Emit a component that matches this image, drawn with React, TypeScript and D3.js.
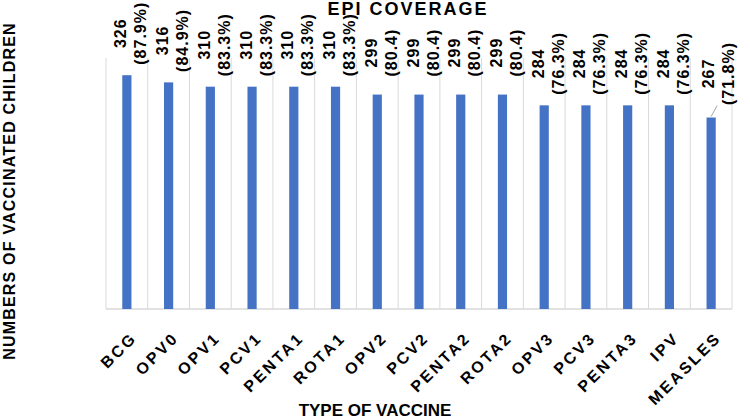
import React, { useEffect, useRef } from "react";
import * as d3 from "d3";

const categories = ["BCG", "OPV0", "OPV1", "PCV1", "PENTA1", "ROTA1", "OPV2", "PCV2", "PENTA2", "ROTA2", "OPV3", "PCV3", "PENTA3", "IPV", "MEASLES"];
const counts = [326, 316, 310, 310, 310, 310, 299, 299, 299, 299, 284, 284, 284, 284, 267];
const percentLabels = ["(87.9%)", "(84.9%)", "(83.3%)", "(83.3%)", "(83.3%)", "(83.3%)", "(80.4)", "(80.4)", "(80.4)", "(80.4)", "(76.3%)", "(76.3%)", "(76.3%)", "(76.3%)", "(71.8%)"];
const yMax = 350;

const W = 750;
const H = 419;
const plot = { left: 106, right: 732, top: 58, bottom: 309 };
const FONT = "'Liberation Sans', Arial, sans-serif";
const BAR = "#4472C4";
const GRID = "#d9d9d9";

export default function App() {
  const ref = useRef<SVGSVGElement>(null);

  useEffect(() => {
    const svg = d3.select(ref.current);
    svg.selectAll("*").remove();
    const x = d3.scaleBand<string>().domain(categories).range([plot.left, plot.right]).padding(0);
    const y = d3.scaleLinear().domain([0, yMax]).range([plot.bottom, plot.top]);
    const bw = x.bandwidth() * 0.22;
    const cxOf = (c: string) => (x(c) as number) + x.bandwidth() / 2;
    const last = categories.length - 1;

    svg.append("rect").attr("width", W).attr("height", H).attr("fill", "#fff");

    // gridlines
    const bounds = categories.map((c) => x(c) as number).concat([plot.right]);
    svg.append("g").selectAll("line").data(bounds).join("line")
      .attr("x1", (d) => d).attr("x2", (d) => d)
      .attr("y1", plot.top).attr("y2", plot.bottom)
      .attr("stroke", GRID).attr("stroke-width", 1);
    svg.append("line").attr("x1", plot.left).attr("x2", plot.right)
      .attr("y1", plot.bottom).attr("y2", plot.bottom)
      .attr("stroke", GRID).attr("stroke-width", 1.5);

    // bars
    svg.append("g").selectAll("rect").data(categories).join("rect")
      .attr("x", (c) => cxOf(c) - bw / 2)
      .attr("y", (_c, i) => y(counts[i]))
      .attr("width", bw)
      .attr("height", (_c, i) => plot.bottom - y(counts[i]))
      .attr("fill", BAR);

    // data labels
    categories.forEach((c, i) => {
      const cx = cxOf(c);
      const top = y(counts[i]);
      const lx = cx + (i === last ? 7 : 4);
      const ly = top - (i === last ? 44 : 42);
      if (i === last) {
        svg.append("line").attr("x1", cx).attr("y1", top - 1).attr("x2", cx + 6).attr("y2", top - 12)
          .attr("stroke", "#a6a6a6").attr("stroke-width", 1);
      }
      const g = svg.append("g").attr("transform", `translate(${lx},${ly}) rotate(-90)`);
      [String(counts[i]), percentLabels[i]].forEach((t, j) => {
        g.append("text").attr("x", 0).attr("y", j === 0 ? -10 : 10)
          .attr("text-anchor", "middle").attr("dominant-baseline", "central")
          .attr("font-family", FONT).attr("font-size", 16).attr("font-weight", "bold")
          .attr("letter-spacing", 1).attr("fill", "#000").text(t);
      });
    });

    // x tick labels rotated -45
    categories.forEach((c) => {
      const cx = cxOf(c);
      svg.append("text")
        .attr("transform", `translate(${cx + 3},331) rotate(-45)`)
        .attr("text-anchor", "end").attr("dominant-baseline", "hanging")
        .attr("font-family", FONT).attr("font-size", 16).attr("font-weight", "bold")
        .attr("letter-spacing", 2.5).attr("fill", "#000").text(c);
    });

    svg.append("text").attr("x", 408).attr("y", 15).attr("text-anchor", "middle")
      .attr("font-family", FONT).attr("font-size", 18).attr("font-weight", "bold")
      .attr("letter-spacing", 2).attr("fill", "#000").text("EPI COVERAGE");

    svg.append("text").attr("x", 375).attr("y", 416).attr("text-anchor", "middle")
      .attr("font-family", FONT).attr("font-size", 17).attr("font-weight", "bold")
      .attr("fill", "#000").text("TYPE OF VACCINE");

    svg.append("text").attr("transform", "translate(15,191) rotate(-90)").attr("text-anchor", "middle")
      .attr("font-family", FONT).attr("font-size", 16).attr("font-weight", "bold")
      .attr("letter-spacing", 1.2).attr("fill", "#000").text("NUMBERS OF VACCINATED CHILDREN");
  }, []);

  return <svg ref={ref} width={W} height={H} style={{ position: "absolute", left: 0, top: 0 }} />;
}
